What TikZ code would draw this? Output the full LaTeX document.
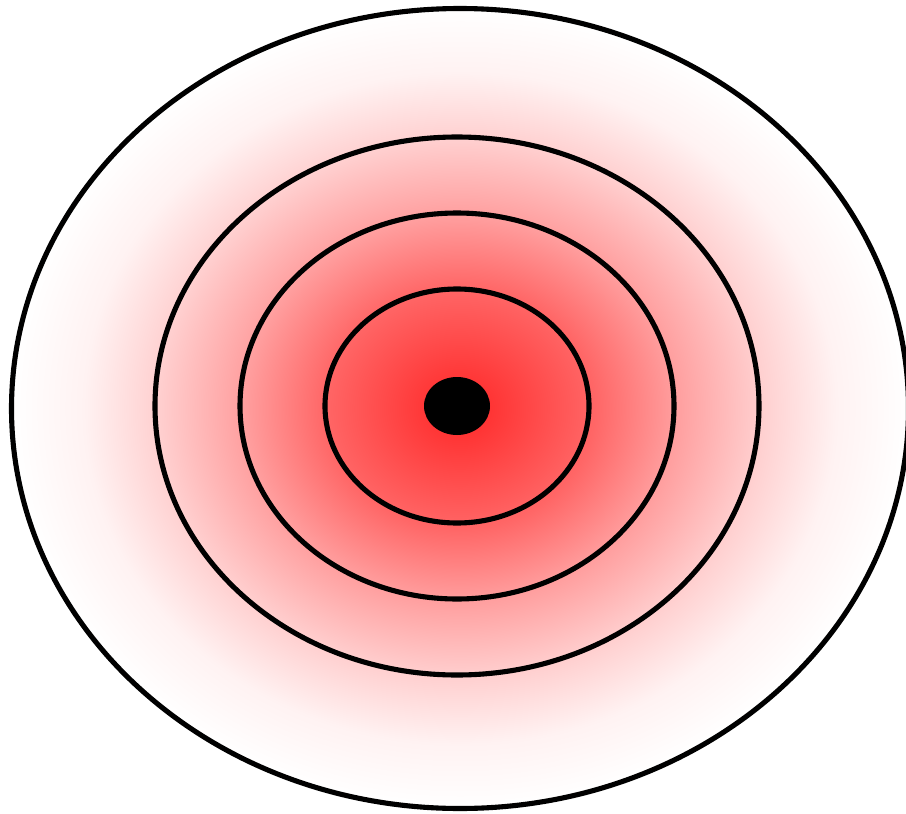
\documentclass[tikz,border=0pt]{standalone}
\usepackage{xcolor}
\usepackage{tikz}
\pgfdeclareradialshading{heatglow}{\pgfpoint{0bp}{0bp}}{%
  color(0bp)=(red!85!white);
  color(7.5bp)=(red!60!white);
  color(12bp)=(red!38!white);
  color(17bp)=(red!18!white);
  color(21bp)=(red!5!white);
  color(25bp)=(white);
  color(50bp)=(white)}

\begin{document}
\begin{tikzpicture}[
  ring/.style={draw=black, line width=1.45pt},
  core/.style={fill=black}
]
  \useasboundingbox (0,0) rectangle (9.06,8.13);
  \coordinate (src) at (4.57,8.13-4.06);
  \coordinate (halo) at (4.60,8.13-4.085);
  % outer ring with glow
  \shade[shading=heatglow, ring] (halo) ellipse [x radius=4.485, y radius=4.0];
  % inner rings
  \foreach \rx/\ry in {3.02/2.69, 2.17/1.93, 1.32/1.17}
    \draw[ring] (src) ellipse [x radius=\rx, y radius=\ry];
  \fill[core] (src) ellipse [x radius=0.33, y radius=0.29];
\end{tikzpicture}
\end{document}
